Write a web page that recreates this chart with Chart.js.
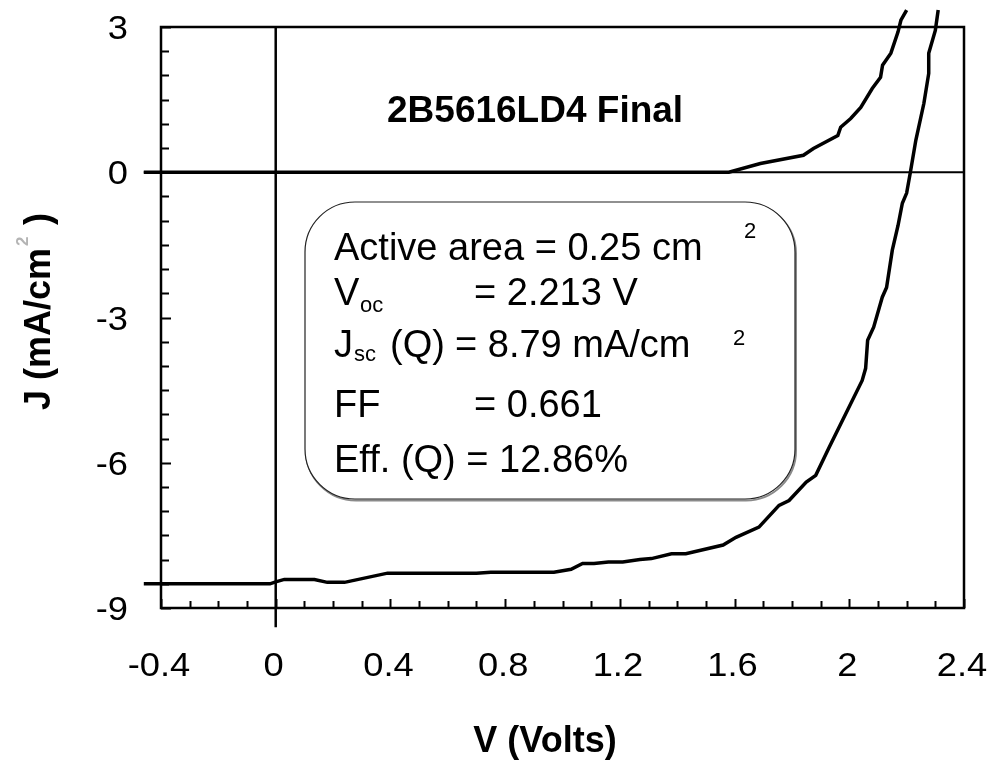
<!DOCTYPE html>
<html>
<head>
<meta charset="utf-8">
<title>2B5616LD4 Final</title>
<script src="https://cdn.jsdelivr.net/npm/chart.js@4.4.1/dist/chart.umd.min.js"></script>
<style>
  html, body { margin: 0; padding: 0; background: #fff; }
  #jv { display: block; }
</style>
</head>
<body>
<canvas id="jv" width="990" height="765"></canvas>
<script>
// J-V sweep, light (illuminated) curve
const lightV = [-0.46, -0.02, 0.0, 0.03, 0.135, 0.18, 0.24, 0.39, 0.70, 0.75, 0.97, 1.03, 1.07, 1.11, 1.16, 1.21, 1.27, 1.31, 1.38, 1.43, 1.56, 1.605, 1.685, 1.755, 1.79, 1.85, 1.883, 1.93, 2.045, 2.057, 2.064, 2.085, 2.115, 2.13, 2.15, 2.17, 2.185, 2.20, 2.213, 2.232, 2.26, 2.277, 2.277, 2.30, 2.31];
const lightJ = [-8.5, -8.5, -8.46, -8.41, -8.41, -8.47, -8.47, -8.28, -8.28, -8.26, -8.26, -8.2, -8.08, -8.08, -8.05, -8.05, -8.0, -7.98, -7.88, -7.88, -7.7, -7.54, -7.33, -6.88, -6.78, -6.4, -6.26, -5.68, -4.3, -4.05, -3.47, -3.2, -2.58, -2.38, -1.61, -1.1, -0.64, -0.43, 0, 0.66, 1.42, 2.04, 2.46, 2.93, 3.35];

// dark curve
const darkV = [-0.46, 1.58, 1.69, 1.84, 1.875, 1.96, 1.97, 2.005, 2.04, 2.08, 2.109, 2.116, 2.145, 2.17, 2.18, 2.2];
const darkJ = [0, 0, 0.18, 0.35, 0.49, 0.76, 0.93, 1.11, 1.34, 1.73, 1.96, 2.21, 2.46, 2.9, 3.14, 3.35];

// reference lines through the origin
const zeroLineV = [-0.46, 2.4];
const vertLineJ = [3, -9.4];

const xTicks = [-0.4, 0, 0.4, 0.8, 1.2, 1.6, 2, 2.4];
const yTicks = [3, 0, -3, -6, -9];

const title = '2B5616LD4 Final';
const xTitle = 'V (Volts)';

const pts = (xs, ys) => xs.map((x, i) => ({ x: x, y: ys[i] }));

function txt(ctx, s, x, y, font, align, sx) {
  ctx.save();
  ctx.translate(x, y);
  ctx.scale(sx || 1, 1);
  ctx.font = font;
  ctx.textAlign = align || 'left';
  ctx.textBaseline = 'alphabetic';
  ctx.fillStyle = '#000';
  ctx.fillText(s, 0, 0);
  ctx.restore();
}

function roundRect(ctx, x, y, w, h, r) {
  ctx.beginPath();
  ctx.moveTo(x + r, y);
  ctx.lineTo(x + w - r, y);
  ctx.arcTo(x + w, y, x + w, y + r, r);
  ctx.lineTo(x + w, y + h - r);
  ctx.arcTo(x + w, y + h, x + w - r, y + h, r);
  ctx.lineTo(x + r, y + h);
  ctx.arcTo(x, y + h, x, y + h - r, r);
  ctx.lineTo(x, y + r);
  ctx.arcTo(x, y, x + r, y, r);
  ctx.closePath();
}

const FONT = '"Liberation Sans", Arial, sans-serif';

const framePlugin = {
  id: 'frame',
  afterDraw(chart) {
    const ctx = chart.ctx;
    const a = chart.chartArea;
    const xs = chart.scales.x, ys = chart.scales.y;

    ctx.save();
    ctx.strokeStyle = '#000';

    // minor / major ticks, pointing inward
    ctx.lineWidth = 2;
    ctx.beginPath();
    for (let k = -4; k <= 24; k++) {
      const v = k / 10;
      const px = Math.round(xs.getPixelForValue(v)) + 0.5;
      const len = (k % 4 === 0) ? 9 : 7;
      ctx.moveTo(px, a.bottom);
      ctx.lineTo(px, a.bottom - len);
    }
    for (let k = -18; k <= 6; k++) {
      const v = k / 2;
      const py = Math.round(ys.getPixelForValue(v)) + 0.5;
      const len = (k % 6 === 0) ? 10 : 8;
      ctx.moveTo(a.left, py);
      ctx.lineTo(a.left + len, py);
    }
    ctx.stroke();

    // plot frame
    ctx.lineWidth = 2.5;
    ctx.strokeRect(a.left, a.top, a.right - a.left, a.bottom - a.top);

    // tick labels
    const tickFont = '33px ' + FONT;
    xTicks.forEach(v => {
      txt(ctx, String(v), xs.getPixelForValue(v) - 2, 676, tickFont, 'center', 1.1);
    });
    yTicks.forEach(v => {
      txt(ctx, String(v), 128, ys.getPixelForValue(v) + 12, tickFont, 'right', 1.1);
    });

    // axis titles
    txt(ctx, xTitle, 545, 752, 'bold 36px ' + FONT, 'center', 1);
    ctx.save();
    ctx.translate(50, 410);
    ctx.rotate(-Math.PI / 2);
    txt(ctx, 'J (mA/cm', 0, 0, 'bold 36px ' + FONT, 'left', 1);
    ctx.font = 'bold 36px ' + FONT;
    const w1 = ctx.measureText('J (mA/cm').width;
    ctx.font = 'bold 17px ' + FONT;
    ctx.fillStyle = '#b4b4b4';
    ctx.fillText('2', w1 + 2, -22);
    txt(ctx, ')', w1 + 23, 0, 'bold 36px ' + FONT, 'left', 1);
    ctx.restore();

    // chart title
    txt(ctx, title, 387, 122, 'bold 37px ' + FONT, 'left', 1);

    // results box
    const bx = 305, by = 202, bw = 490, bh = 297;
    ctx.strokeStyle = '#8a8a8a';
    ctx.lineWidth = 2;
    roundRect(ctx, bx + 1, by + 1.5, bw, bh, 50);
    ctx.stroke();
    ctx.fillStyle = '#fff';
    roundRect(ctx, bx, by, bw, bh, 50);
    ctx.fill();
    ctx.strokeStyle = '#222';
    ctx.lineWidth = 1.2;
    ctx.stroke();

    const big = '38px ' + FONT, small = '22px ' + FONT;
    txt(ctx, 'Active area = 0.25 cm', 334, 260, big);
    txt(ctx, '2', 744, 238, small);
    txt(ctx, 'V', 334, 305, big);
    txt(ctx, 'oc', 360, 312, small);
    txt(ctx, '= 2.213 V', 474, 305, big);
    txt(ctx, 'J', 334, 357, big);
    txt(ctx, 'sc', 354, 361, small);
    txt(ctx, '(Q)', 390, 357, big);
    txt(ctx, '= 8.79 mA/cm', 455, 357, big);
    txt(ctx, '2', 733, 345, small);
    txt(ctx, 'FF', 334, 417, big);
    txt(ctx, '= 0.661', 474, 417, big);
    txt(ctx, 'Eff. (Q) = 12.86%', 334, 472, big);

    ctx.restore();
  }
};

const lineStyle = {
  showLine: true,
  pointRadius: 0,
  borderColor: '#000',
  tension: 0,
  clip: false
};

new Chart(document.getElementById('jv').getContext('2d'), {
  type: 'scatter',
  data: {
    datasets: [
      Object.assign({ label: 'zero', data: pts(zeroLineV, [0, 0]), borderWidth: 2 }, lineStyle),
      Object.assign({ label: 'origin', data: pts([0, 0], vertLineJ), borderWidth: 2.5 }, lineStyle),
      Object.assign({ label: 'dark', data: pts(darkV, darkJ), borderWidth: 3.5 }, lineStyle),
      Object.assign({ label: 'light', data: pts(lightV, lightJ), borderWidth: 3.5 }, lineStyle)
    ]
  },
  options: {
    responsive: false,
    animation: false,
    devicePixelRatio: 1,
    layout: { padding: { left: 161, right: 26, top: 27, bottom: 157 } },
    scales: {
      x: { type: 'linear', min: -0.4, max: 2.4, display: false },
      y: { type: 'linear', min: -9, max: 3, display: false }
    },
    plugins: {
      legend: { display: false },
      tooltip: { enabled: false }
    }
  },
  plugins: [framePlugin]
});
</script>
</body>
</html>
